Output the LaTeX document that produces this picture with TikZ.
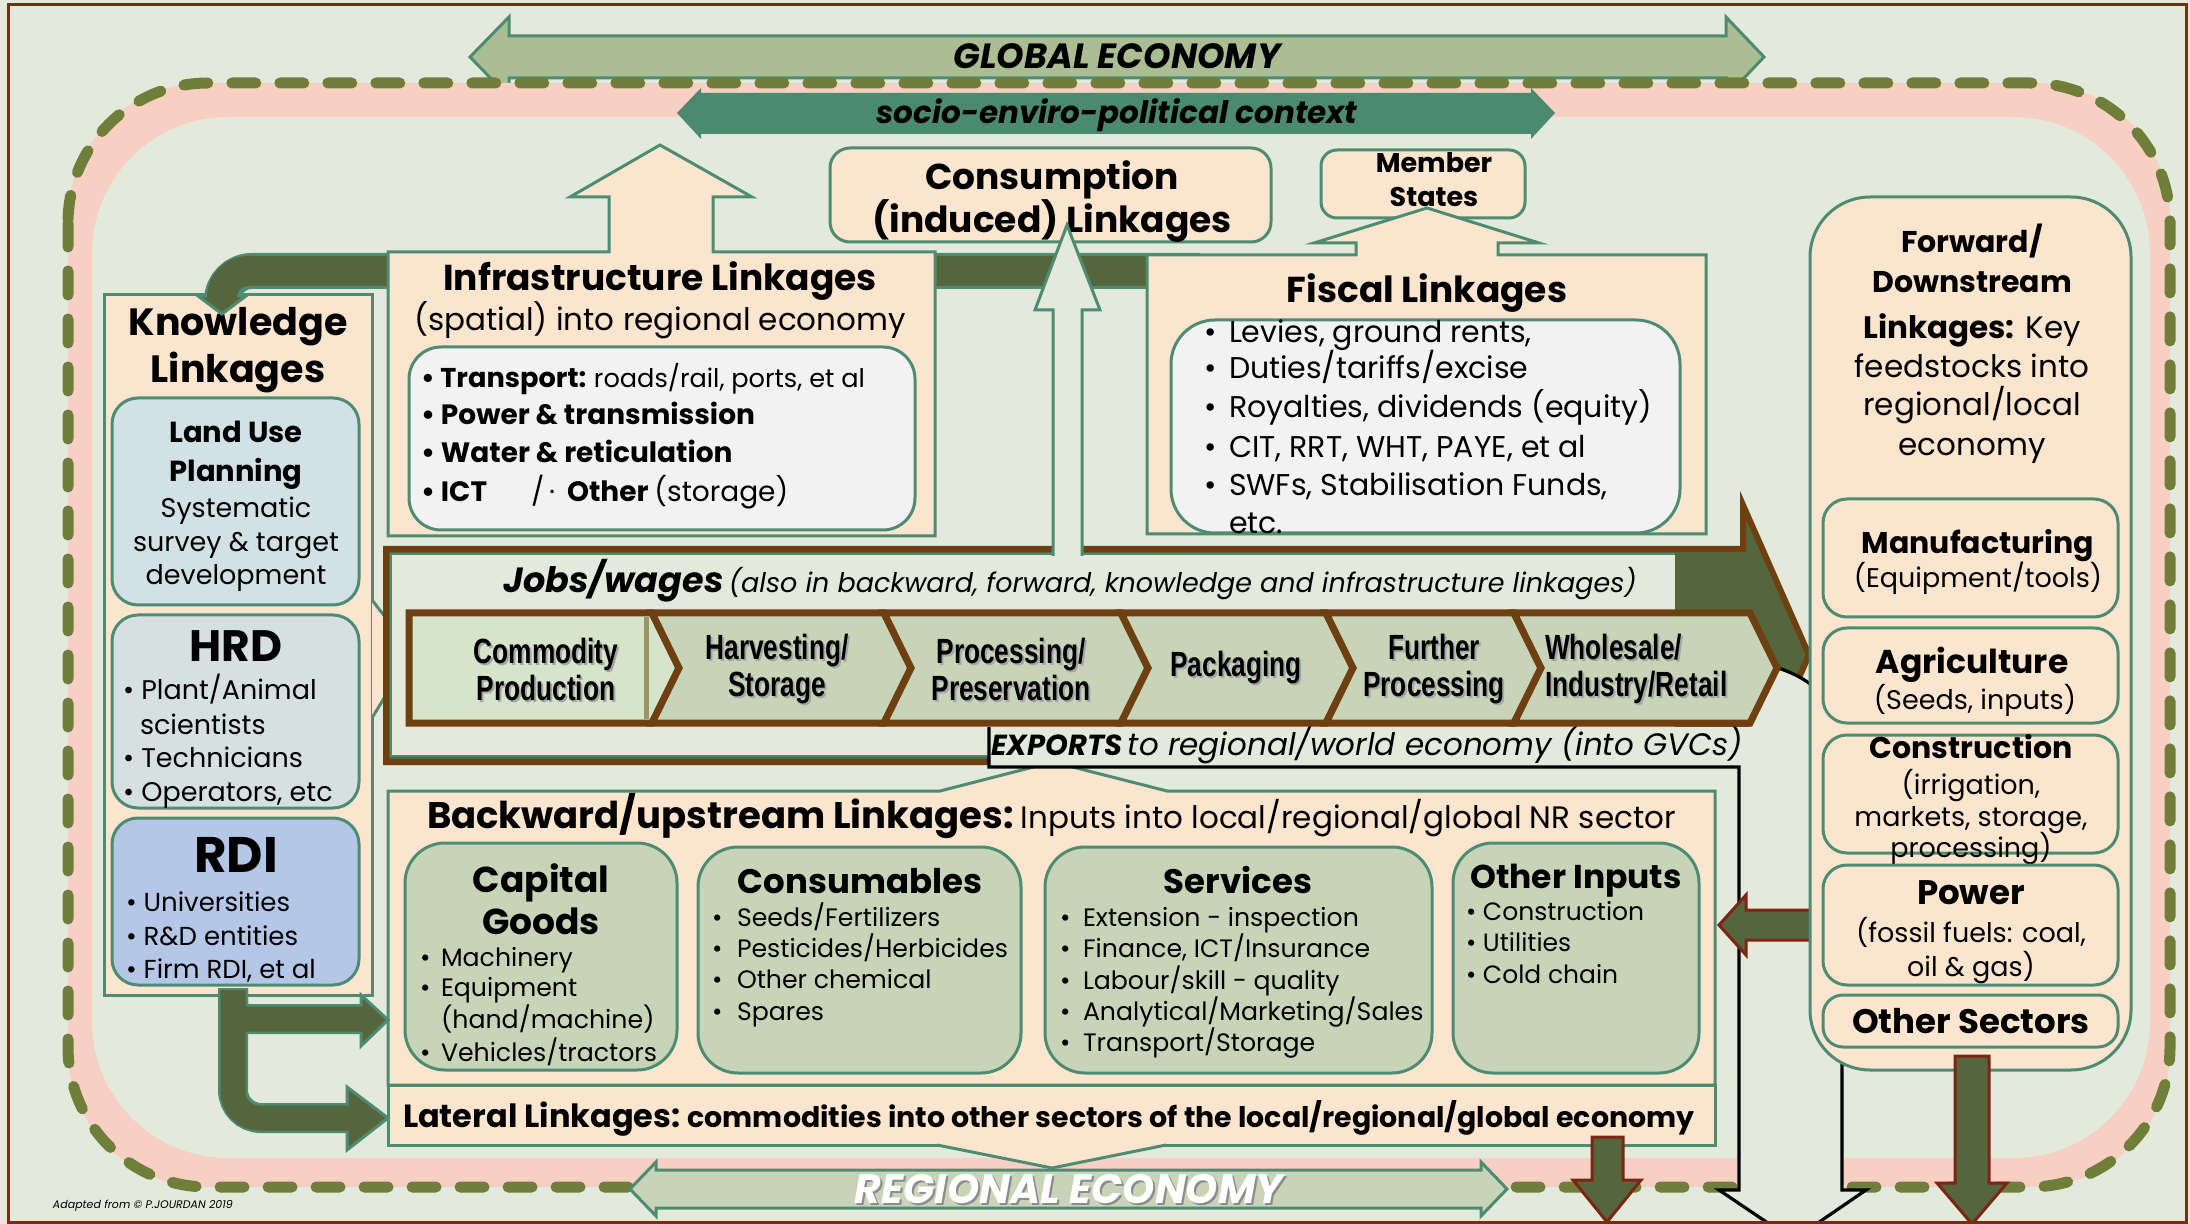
\documentclass[tikz,border=0pt]{standalone}
\usepackage{fontspec}
\setmainfont{Poppins}
\newfontfamily\chainfont[FakeStretch=0.75]{Liberation Sans}
\newcommand\fsz[1]{\fontsize{#1}{#1}\selectfont}
\definecolor{bgc}{HTML}{E3EADB}
\definecolor{tanc}{HTML}{FBE5CE}
\definecolor{tealc}{HTML}{4E8B73}
\definecolor{olivec}{HTML}{55663D}
\definecolor{brownc}{HTML}{6E3F10}
\definecolor{redc}{HTML}{7B2512}
\definecolor{sagec}{HTML}{ABBD93}
\definecolor{sagel}{HTML}{C8D4B8}
\definecolor{sockc}{HTML}{4B8A70}
\definecolor{pinkc}{HTML}{F8CFC3}
\definecolor{dashc}{HTML}{6F7F3A}
\definecolor{greyc}{HTML}{F2F2F2}
\definecolor{luc}{HTML}{D2E1E6}
\definecolor{hrdc}{HTML}{D5E0E1}
\definecolor{rdic}{HTML}{B4C7E7}
\definecolor{commc}{HTML}{D6E5C9}
\definecolor{framec}{HTML}{7E2A12}
\definecolor{khakic}{HTML}{9C9463}
\begin{document}
\begin{tikzpicture}[x=0.5pt,y=-0.5pt,
 tx/.style={inner sep=0pt,outer sep=0pt},
 lw/.style={tx,anchor=base west},
 ct/.style={tx,anchor=base},
 tanbox/.style={fill=tanc,draw=tealc,line width=1.5pt},
 sagebox/.style={fill=sagel,draw=tealc,line width=1.5pt,rounded corners=20pt},
 greybox/.style={fill=greyc,draw=tealc,line width=1.5pt},
 darrow/.style={fill=olivec,draw=redc,line width=1.5pt},
 chev/.style={fill=sagel,draw=brownc,line width=3.5pt,line join=miter},
 chl/.style={tx,anchor=center,align=center,font=\chainfont\bfseries\fontsize{17.5}{18.5}\selectfont},
 chs/.style={chl,text=black!35},
 bt/.style={font=\bfseries\fsz{#1},yshift=-0.34*#1pt},
 rt/.style={font=\fsz{#1},yshift=-0.34*#1pt},
]
% background
\fill[bgc] (0,0) rectangle (2190,1224);
\useasboundingbox (0,0) rectangle (2190,1224);

% global economy arrow
\draw[fill=sagec,draw=tealc,line width=1.5pt,line join=miter] (470,57) -- (509,17) -- (509,36) -- (1726,36) -- (1726,17) -- (1764,57) -- (1726,97) -- (1726,78) -- (509,78) -- (509,97) -- cycle;

% pink band and dashed line
\fill[pinkc,even odd rule,rounded corners=68pt] (68,83) rectangle (2170,1187) (92,117) rectangle (2150,1158);
\draw[dashc,line width=5.5pt,dash pattern=on 12pt off 12pt,line cap=round,rounded corners=70pt] (68,83) rectangle (2170,1187);

% socio arrow
\fill[sockc] (677,113) -- (701,88) -- (701,93) -- (1531,93) -- (1531,88) -- (1555,113) -- (1531,139) -- (1531,134) -- (701,134) -- (701,139) -- cycle;
\node[ct,font=\bfseries\itshape\fsz{15.5},yshift=-5.2pt] (soc) at (1117,113) {socio-enviro-political context};
\node[ct,font=\bfseries\itshape\fsz{17.5},yshift=-6pt] (glob) at (1117,57) {GLOBAL ECONOMY};

% knowledge box
\draw[tanbox] (104,295) rectangle (372,995);
\fill[tanc] (372,600) -- (389,622) -- (389,690) -- (372,718) -- cycle;
\draw[tealc,line width=1.5pt] (372,600) -- (389,622) (389,690) -- (372,718);
\node[ct,bt=19] (kn1) at (238,323) {Knowledge};
\node[ct,bt=19] (kn2) at (238,370) {Linkages};
\draw[fill=luc,draw=tealc,line width=1.5pt,rounded corners=13pt] (112,398) rectangle (359,605);
\node[ct,bt=14.5] (lu1) at (236,433) {Land Use};
\node[ct,bt=14.5] (lu2) at (236,472) {Planning};
\node[ct,rt=13.5] (lu3) at (236,508) {Systematic};
\node[ct,rt=13.5] (lu4) at (236,542) {survey \& target};
\node[ct,rt=13.5] (lu5) at (236,575) {development};
\draw[fill=hrdc,draw=tealc,line width=1.5pt,rounded corners=13pt] (112,615) rectangle (359,808);
\node[ct,bt=22] (hrd) at (236,647) {HRD};
\node[lw,rt=13.5] (hr1) at (123,690) {• Plant/Animal};
\node[lw,rt=13.5] (hr2) at (140,725) {scientists};
\node[lw,rt=13.5] (hr3) at (123,758) {• Technicians};
\node[lw,rt=13.5] (hr4) at (123,792) {• Operators, etc};
\draw[fill=rdic,draw=tealc,line width=1.5pt,rounded corners=13pt] (112,818) rectangle (359,985);
\node[ct,bt=25] (rdi) at (236,855) {RDI};
\node[lw,rt=13] (rd1) at (126,903) {• Universities};
\node[lw,rt=13] (rd2) at (126,937) {• R\&D entities};
\node[lw,rt=13] (rd3) at (126,970) {• Firm RDI, et al};

% knowledge top bent arrow
\draw[tealc,line width=18pt,rounded corners=15pt] (1200,271) -- (222,271) -- (222,300);
\draw[fill=olivec,draw=tealc,line width=1.5pt,line join=miter] (198,296) -- (222,314) -- (246,296) -- cycle;
\draw[olivec,line width=15pt,rounded corners=13pt] (1200,271) -- (222,271) -- (222,299);

% infrastructure box
\draw[tanbox,line join=miter] (388,252) -- (609,252) -- (609,197) -- (570,197) -- (660,145) -- (752,197) -- (713,197) -- (713,252) -- (935,252) -- (935,536) -- (388,536) -- cycle;
\node[ct,bt=18] (inf1) at (660,278) {Infrastructure Linkages};
\node[ct,rt=15.5] (inf2) at (660,320) {(spatial) into regional economy};
\draw[greybox,rounded corners=16pt] (409,347) rectangle (915,530);
\node[lw,bt=13.6] (if1) at (421,378) {• Transport: {\mdseries\fsz{12.8}roads/rail, ports, et al}};
\node[lw,bt=14] (if2) at (421,415) {• Power \& transmission};
\node[lw,bt=14] (if3) at (421,453) {• Water \& reticulation};
\node[lw,bt=14] (if4) at (421,492) {• ICT\hspace{22pt}{\mdseries /\,·}\hspace{6pt}Other {\mdseries (storage)}};

% member states
\draw[tanbox,rounded corners=8pt] (1321,150) rectangle (1525,218);
\node[ct,bt=13.5] (ms1) at (1434,163) {Member};
\node[ct,bt=13.5] (ms2) at (1434,197) {States};

% fiscal box
\draw[tanbox,line join=miter] (1147,255) -- (1356,255) -- (1356,243) -- (1314,243) -- (1427,208) -- (1539,243) -- (1498,243) -- (1498,255) -- (1706,255) -- (1706,534) -- (1147,534) -- cycle;
\node[ct,bt=18] (fis) at (1427,290) {Fiscal Linkages};
\draw[greybox,rounded corners=22pt] (1171,320) rectangle (1680,533);
\node[lw,rt=15] (fb1) at (1204,332) {•};
\node[lw,rt=15] (fi1) at (1229,332) {Levies, ground rents,};
\node[lw,rt=15] (fb2) at (1204,368) {•};
\node[lw,rt=15] (fi2) at (1229,368) {Duties/tariffs/excise};
\node[lw,rt=15] (fb3) at (1204,407) {•};
\node[lw,rt=15] (fi3) at (1229,407) {Royalties, dividends (equity)};
\node[lw,rt=15] (fb4) at (1204,447) {•};
\node[lw,rt=15] (fi4) at (1229,447) {CIT, RRT, WHT, PAYE, et al};
\node[lw,rt=15] (fb5) at (1204,485) {•};
\node[lw,rt=15] (fi5) at (1229,485) {SWFs, Stabilisation Funds,};
\node[lw,rt=15] (fi6) at (1229,523) {etc.};

% consumption box
\draw[tanbox,rounded corners=10pt] (830,148) rectangle (1271,242);
\node[ct,bt=18] (co1) at (1052,177) {Consumption};
\node[ct,bt=18] (co2) at (1052,220) {(induced) Linkages};

% jobs big arrow
\draw[fill=olivec,draw=brownc,line width=3pt,line join=miter] (386,549) -- (1743,549) -- (1743,505) -- (1809,655) -- (1743,805) -- (1743,762) -- (386,762) -- cycle;
\fill[bgc] (391,555) rectangle (1675,757);
\draw[tealc,line width=1.2pt] (1675,554) -- (391,554) -- (391,756) -- (1739,756);
\node[lw,yshift=-5.6pt] (jobs) at (503,581) {{\bfseries\itshape\fsz{17.5}Jobs/wages} {\itshape\fsz{13.5}(also in backward, forward, knowledge and infrastructure linkages)}};

% consumption arrow
\fill[bgc] (1053,556) -- (1053,310) -- (1035,310) -- (1067,225) -- (1100,310) -- (1082,310) -- (1082,556) -- cycle;
\draw[tealc,line width=1.5pt,line join=miter] (1053,556) -- (1053,310) -- (1035,310) -- (1067,225) -- (1100,310) -- (1082,310) -- (1082,556);

% backward box
\draw[tanbox,line join=miter] (388,791) -- (940,791) -- (1053,762) -- (1167,791) -- (1715,791) -- (1715,1085) -- (388,1085) -- cycle;
\node[lw,yshift=-5.9pt] (bw) at (427,817) {{\bfseries\fsz{18.5}Backward/upstream Linkages:} {\fsz{15.5}Inputs into local/regional/global NR sector}};
\draw[sagebox] (405,843) rectangle (677,1070);
\node[ct,bt=18] (cg1) at (541,880) {Capital};
\node[ct,bt=18] (cg2) at (541,922) {Goods};
\node[lw,rt=12.6] (cgb1) at (420,958) {•};
\node[lw,rt=12.6] (cgt1) at (441,958) {Machinery};
\node[lw,rt=12.6] (cgb2) at (420,988) {•};
\node[lw,rt=12.6] (cgt2) at (441,988) {Equipment};
\node[lw,rt=12.6] (cgt3) at (441,1020) {(hand/machine)};
\node[lw,rt=12.6] (cgb4) at (420,1053) {•};
\node[lw,rt=12.6] (cgt4) at (441,1053) {Vehicles/tractors};
\draw[sagebox] (698,847) rectangle (1021,1073);
\node[ct,bt=17] (cs) at (860,882) {Consumables};
\node[lw,rt=12.6] (csb1) at (712,918) {•};
\node[lw,rt=12.6] (cst1) at (737,918) {Seeds/Fertilizers};
\node[lw,rt=12.6] (csb2) at (712,949) {•};
\node[lw,rt=12.6] (cst2) at (737,949) {Pesticides/Herbicides};
\node[lw,rt=12.6] (csb3) at (712,980) {•};
\node[lw,rt=12.6] (cst3) at (737,980) {Other chemical};
\node[lw,rt=12.6] (csb4) at (712,1012) {•};
\node[lw,rt=12.6] (cst4) at (737,1012) {Spares};
\draw[sagebox] (1045,847) rectangle (1432,1073);
\node[ct,bt=17] (sv) at (1238,882) {Services};
\node[lw,rt=12.6] (svb1) at (1060,918) {•};
\node[lw,rt=12.6] (svt1) at (1083,918) {Extension - inspection};
\node[lw,rt=12.6] (svb2) at (1060,949) {•};
\node[lw,rt=12.6] (svt2) at (1083,949) {Finance, ICT/Insurance};
\node[lw,rt=12.6] (svb3) at (1060,981) {•};
\node[lw,rt=12.6] (svt3) at (1083,981) {Labour/skill - quality};
\node[lw,rt=12.6] (svb4) at (1060,1012) {•};
\node[lw,rt=12.6] (svt4) at (1083,1012) {Analytical/Marketing/Sales};
\node[lw,rt=12.6] (svb5) at (1060,1043) {•};
\node[lw,rt=12.6] (svt5) at (1083,1043) {Transport/Storage};
\draw[sagebox] (1453,843) rectangle (1699,1073);
\node[ct,bt=16.5] (oi) at (1576,877) {Other Inputs};
\node[lw,rt=12.5] (oi1) at (1466,912) {• Construction};
\node[lw,rt=12.5] (oi2) at (1466,943) {• Utilities};
\node[lw,rt=12.5] (oi3) at (1466,975) {• Cold chain};

% lateral box
\draw[tanbox] (388,1085) rectangle (1715,1145);
\fill[tanc] (937,1144) -- (1052,1168) -- (1166,1144) -- cycle;
\draw[tealc,line width=1.5pt] (937,1145) -- (1052,1168) -- (1166,1145);
\node[lw,yshift=-5.4pt] (lat) at (403,1117) {{\bfseries\fsz{16}Lateral Linkages:} {\bfseries\fsz{14.2}commodities into other sectors of the local/regional/global economy}};

% black export outline
\fill[bgc] (989,727) -- (989,767) -- (1739,767) -- (1739,1190) -- (1719,1190) -- (1793,1240) -- (1866,1190) -- (1842,1190) -- (1842,750) .. controls (1842,705) and (1815,680) .. (1778,668) -- (1750,727) -- cycle;
\draw[black,line width=1.6pt,line join=miter] (989,727) -- (989,767) -- (1739,767) -- (1739,1190) -- (1719,1190) -- (1793,1240) -- (1866,1190) -- (1842,1190) -- (1842,750) .. controls (1842,705) and (1815,680) .. (1778,668);
\node[lw,yshift=-5pt] (exp) at (991,745) {{\bfseries\itshape\fsz{14.5}EXPORTS} {\itshape\fsz{15.5}to regional/world economy (into GVCs)}};

% value chain
\draw[chev,fill=commc] (409,613) -- (652,613) -- (679,668) -- (652,723) -- (409,723) -- cycle;
\draw[khakic,line width=2.5pt] (646,617) -- (646,719);
\draw[chev] (652,613) -- (884,613) -- (911,668) -- (884,723) -- (652,723) -- (679,668) -- cycle;
\draw[chev] (884,613) -- (1121,613) -- (1148,668) -- (1121,723) -- (884,723) -- (911,668) -- cycle;
\draw[chev] (1121,613) -- (1326,613) -- (1353,668) -- (1326,723) -- (1121,723) -- (1148,668) -- cycle;
\draw[chev] (1326,613) -- (1514,613) -- (1541,668) -- (1514,723) -- (1326,723) -- (1353,668) -- cycle;
\draw[chev] (1514,613) -- (1750,613) -- (1777,668) -- (1750,723) -- (1514,723) -- (1541,668) -- cycle;
\node[chs] (c1s) at (548,671) {Commodity\\Production};
\node[chl] (c1) at (546,669) {Commodity\\Production};
\node[chs] (c2s) at (779,671) {Harvesting/\\Storage};
\node[chl] (c2) at (777,669) {Harvesting/\\Storage};
\node[chs] (c3s) at (1013,671) {Processing/\\Preservation};
\node[chl] (c3) at (1011,669) {Processing/\\Preservation};
\node[chs] (c4s) at (1238,670) {Packaging};
\node[chl] (c4) at (1236,668) {Packaging};
\node[chs] (c5s) at (1436,671) {Further\\Processing};
\node[chl] (c5) at (1434,669) {Further\\Processing};
\node[chs,anchor=west,align=left] (c6s) at (1547,671) {Wholesale/\\Industry/Retail};
\node[chl,anchor=west,align=left] (c6) at (1545,669) {Wholesale/\\Industry/Retail};

% arrow power -> other inputs
\draw[darrow,line join=miter] (1814,910) -- (1746,910) -- (1746,895) -- (1719,925) -- (1746,955) -- (1746,940) -- (1814,940);
\fill[olivec] (1810,911) rectangle (1816,939);

% forward box
\draw[tanbox,rounded corners=30pt] (1810,197) rectangle (2131,1070);
\node[ct,bt=15] (fw1) at (1972,242) {Forward/};
\node[ct,bt=15] (fw2) at (1972,282) {Downstream};
\node[ct,rt=15.5] (fw3) at (1972,328) {\textbf{Linkages:} Key};
\node[ct,rt=15.5] (fw4) at (1972,367) {feedstocks into};
\node[ct,rt=15.5] (fw5) at (1972,405) {regional/local};
\node[ct,rt=15.5] (fw6) at (1972,445) {economy};
\draw[tanbox,rounded corners=12pt] (1823,499) rectangle (2118,617);
\node[ct,bt=15] (mf1) at (1978,543) {Manufacturing};
\node[ct,rt=13.5] (mf2) at (1978,578) {(Equipment/tools)};
\draw[tanbox,rounded corners=12pt] (1823,628) rectangle (2118,723);
\node[ct,bt=16.5] (ag1) at (1972,662) {Agriculture};
\node[ct,rt=13.5] (ag2) at (1975,700) {(Seeds, inputs)};
\draw[tanbox,rounded corners=12pt] (1823,735) rectangle (2118,853);
\node[ct,bt=15] (cn1) at (1971,748) {Construction};
\node[ct,rt=13.5] (cn2) at (1971,785) {(irrigation,};
\node[ct,rt=13.5] (cn3) at (1971,817) {markets, storage,};
\node[ct,rt=13.5] (cn4) at (1971,848) {processing)};
\draw[tanbox,rounded corners=12pt] (1823,865) rectangle (2118,985);
\node[ct,bt=17] (pw1) at (1971,893) {Power};
\node[ct,rt=13.5] (pw2) at (1971,933) {(fossil fuels: coal,};
\node[ct,rt=13.5] (pw3) at (1971,967) {oil \& gas)};
\draw[tanbox,rounded corners=10pt] (1823,995) rectangle (2118,1047);
\node[ct,bt=17] (os) at (1971,1022) {Other Sectors};

% knowledge bottom bent arrows
\draw[tealc,line width=15pt,rounded corners=14pt] (233,988) -- (233,1118) -- (352,1118);
\draw[tealc,line width=15pt,rounded corners=8pt] (233,988) -- (233,1019) -- (365,1019);
\draw[fill=olivec,draw=tealc,line width=1.5pt,line join=miter] (361,995) -- (388,1020) -- (361,1046) -- cycle;
\draw[fill=olivec,draw=tealc,line width=1.5pt,line join=miter] (347,1087) -- (388,1118) -- (347,1150) -- cycle;
\draw[olivec,line width=12.5pt,rounded corners=13pt] (233,990) -- (233,1118) -- (350,1118);
\draw[olivec,line width=12.5pt,rounded corners=7pt] (233,990) -- (233,1019) -- (363,1019);

% regional economy arrow
\draw[fill=sagel,draw=tealc,line width=1.5pt,line join=miter] (630,1189) -- (656,1162) -- (656,1170) -- (1481,1170) -- (1481,1162) -- (1507,1189) -- (1481,1216) -- (1481,1208) -- (656,1208) -- (656,1216) -- cycle;
\node[ct,font=\bfseries\itshape\fsz{20.5},text=black!45,yshift=-7pt] (rgs) at (1071,1191) {REGIONAL ECONOMY};
\node[ct,font=\bfseries\itshape\fsz{20.5},text=white,yshift=-7pt] (rg) at (1069,1189) {REGIONAL ECONOMY};

% down arrows
\draw[darrow,line join=miter] (1592,1137) -- (1623,1137) -- (1623,1180) -- (1641,1180) -- (1607,1222) -- (1573,1180) -- (1592,1180) -- cycle;
\draw[darrow,line join=miter] (1955,1056) -- (1989,1056) -- (1989,1183) -- (2007,1183) -- (1972,1224) -- (1937,1183) -- (1955,1183) -- cycle;

% frame
\draw[framec,line width=1.5pt] (8,5) rectangle (2186,1222);
\node[lw,font=\itshape\fsz{5.5},yshift=-2pt] (adp) at (53,1204) {Adapted from © P.JOURDAN 2019};
\end{tikzpicture}
\end{document}
